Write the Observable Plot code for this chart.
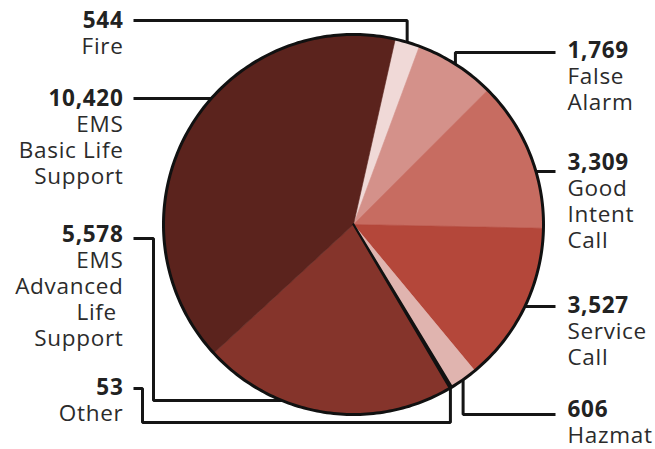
<!DOCTYPE html>
<html><head><meta charset="utf-8">
<script src="https://cdn.jsdelivr.net/npm/d3@7"></script>
<script src="https://cdn.jsdelivr.net/npm/@observablehq/plot@0.6"></script>
<style>body{margin:0;background:#fff} #chart svg{display:block} #chart svg text{letter-spacing:0.7px}</style>
</head><body><div id="chart"></div>
<script>
// ---- data ----
const categories = ["Fire", "False Alarm", "Good Intent Call", "Service Call", "Hazmat", "Other", "EMS Advanced Life Support", "EMS Basic Life Support"];
const values = [544, 1769, 3309, 3527, 606, 53, 5578, 10420];
const labelLines = [["Fire"], ["False", "Alarm"], ["Good", "Intent", "Call"], ["Service", "Call"], ["Hazmat"], ["Other"], ["EMS", "Advanced", "Life\u00a0", "Support"], ["EMS", "Basic Life", "Support"]];
const colors = ["#f0d9d7", "#d4918a", "#c76c61", "#b4473a", "#e0b4af", "#111111", "#85342b", "#5b231d"];

// ---- layout ----
const W = 655, H = 449;
const CX = 353, CY = 224, R = 190, START = 12.7 * Math.PI / 180;
const side = ["left", "right", "right", "right", "right", "left", "left", "left"];
const labelY = [20, 50, 162, 305, 409, 387, 234, 98];
const leaderY = [20, 52, 171, 306, 414, 388, 238, 98];
const route = ["drop", "drop", "flat", "flat", "drop", "gutterDrop", "gutterFlat", "flat"];
const gutterX = [0, 0, 0, 0, 0, 142, 153, 0];
const gutterY = [0, 0, 0, 0, 0, 422, 400, 0];
const LEFT_X = 123, RIGHT_X = 567, LEFT_LINE = 133, RIGHT_LINE = 555, LINE_STEP = 26;

const rows = categories.map((name, i) => ({name, value: values[i], color: colors[i], i}));
const arcs = d3.pie().sort(null).value(d => d.value).startAngle(START).endAngle(START + 2 * Math.PI)(rows);
const pt = (a, r) => ({x: CX + r * Math.sin(a), y: CY - r * Math.cos(a)});

// slice polygons
const slicePts = [];
for (const a of arcs) {
  const n = Math.max(2, Math.ceil((a.endAngle - a.startAngle) / (0.4 * Math.PI / 180)));
  slicePts.push({name: a.data.name, color: a.data.color, x: CX, y: CY});
  for (let k = 0; k <= n; k++) {
    const p = pt(a.startAngle + (a.endAngle - a.startAngle) * k / n, R);
    slicePts.push({name: a.data.name, color: a.data.color, ...p});
  }
  slicePts.push({name: a.data.name, color: a.data.color, x: CX, y: CY});
}
const outline = d3.range(0, 361).map(d => ({...pt(d * Math.PI / 180, R), name: "outline"}));

// leaders
const leaderPts = [];
arcs.forEach((a, i) => {
  const m = (a.startAngle + a.endAngle) / 2;
  const e = pt(m, R - 1);
  const y0 = leaderY[i];
  const x0 = side[i] === "left" ? LEFT_LINE : RIGHT_LINE;
  const sign = side[i] === "left" ? -1 : 1;
  const edgeX = y => CX + sign * Math.sqrt(Math.max(0, R * R - (y - CY) ** 2)) - sign * 2;
  let p = [[x0, y0]];
  if (route[i] === "drop") p.push([e.x, y0], [e.x, e.y]);
  else if (route[i] === "flat") p.push([edgeX(y0), y0]);
  else if (route[i] === "gutterDrop") p.push([gutterX[i], y0], [gutterX[i], gutterY[i]], [e.x, gutterY[i]], [e.x, e.y]);
  else if (route[i] === "gutterFlat") {
    const g = gutterY[i];
    p.push([gutterX[i], y0], [gutterX[i], g], [CX - Math.sqrt(R * R - (g - CY) ** 2) + 4, g]);
  }
  p.forEach(([x, y]) => leaderPts.push({name: a.data.name, x, y}));
});

// labels
const fmt = d3.format(",");
const nums = rows.map((d, i) => ({side: side[i], x: side[i] === "left" ? LEFT_X : RIGHT_X, y: labelY[i], text: fmt(d.value)}));
const names = rows.flatMap((d, i) => labelLines[i].map((t, k) => ({side: side[i], x: side[i] === "left" ? LEFT_X : RIGHT_X, y: labelY[i] + LINE_STEP * (k + 1), text: t})));

const font = {fontFamily: "Open Sans", fontSize: 22.5, lineAnchor: "middle"};
const chart = Plot.plot({
  width: W, height: H, margin: 0,
  x: {domain: [0, W], range: [0, W], axis: null},
  y: {domain: [0, H], range: [0, H], axis: null},
  style: {background: "white"},
  marks: [
    Plot.line(leaderPts, {x: "x", y: "y", z: "name", stroke: "#151515", strokeWidth: 3, strokeLinejoin: "miter", strokeLinecap: "butt"}),
    Plot.line(slicePts.filter(d => d.name !== "Other"), {x: "x", y: "y", z: "name", fill: "color", stroke: "color", strokeWidth: 0.6}),
    Plot.line(slicePts.filter(d => d.name === "Other"), {x: "x", y: "y", z: "name", fill: "#111", stroke: "#111", strokeWidth: 2.2, strokeLinejoin: "round"}),
    Plot.line(outline, {x: "x", y: "y", stroke: "#111", strokeWidth: 3}),
    Plot.text(nums.filter(d => d.side === "left"), {x: "x", y: "y", text: "text", textAnchor: "end", fontWeight: 700, fill: "#222", ...font}),
    Plot.text(nums.filter(d => d.side === "right"), {x: "x", y: "y", text: "text", textAnchor: "start", fontWeight: 700, fill: "#222", ...font}),
    Plot.text(names.filter(d => d.side === "left"), {x: "x", y: "y", text: "text", textAnchor: "end", fill: "#2b2b2b", ...font}),
    Plot.text(names.filter(d => d.side === "right"), {x: "x", y: "y", text: "text", textAnchor: "start", fill: "#2b2b2b", ...font})
  ]
});
document.getElementById("chart").appendChild(chart);
</script>
</body></html>
